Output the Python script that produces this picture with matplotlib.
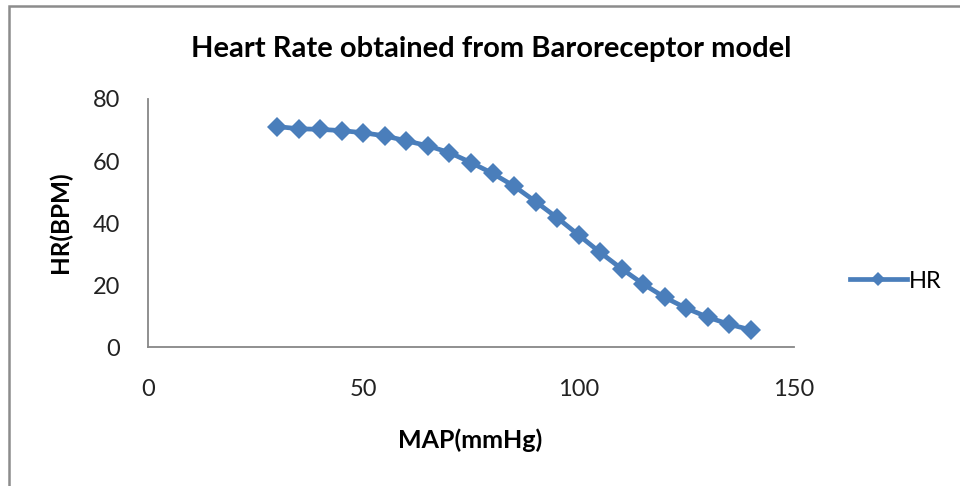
import matplotlib
matplotlib.use("Agg")
import matplotlib.pyplot as plt
from matplotlib.lines import Line2D
from matplotlib.patches import Rectangle

plt.rcParams['font.family'] = ['Lato', 'DejaVu Sans']

map_mmhg = [30, 35, 40, 45, 50, 55, 60, 65, 70, 75, 80, 85, 90, 95, 100,
            105, 110, 115, 120, 125, 130, 135, 140]
hr_bpm = [71.1, 70.4, 70.2, 69.8, 69.1, 68.1, 66.5, 64.9, 62.7, 59.5, 56.0,
          51.9, 46.9, 41.7, 36.1, 30.5, 25.2, 20.3, 16.0, 12.5, 9.6, 7.3, 5.5]
x_ticks = [0, 50, 100, 150]
y_ticks = [0, 20, 40, 60, 80]

blue = '#4A7EBB'
axis_gray = '#878787'

fig = plt.figure(figsize=(9.6, 4.86), dpi=100)
ax = fig.add_axes([148/960, 1-347/486, (794-148)/960, (347-99)/486])

ax.plot(map_mmhg, hr_bpm, color=blue, lw=3.4, marker='D', ms=10,
        markeredgewidth=0, clip_on=False)

ax.set_xlim(0, 150)
ax.set_ylim(0, 80)
ax.set_xticks(x_ticks)
ax.set_yticks(y_ticks)
ax.tick_params(axis='both', length=0, labelsize=17, colors='#222222')
ax.tick_params(axis='x', pad=23)
ax.tick_params(axis='y', pad=20)
for s in ['top', 'right']:
    ax.spines[s].set_visible(False)
for s in ['left', 'bottom']:
    ax.spines[s].set_color(axis_gray)
    ax.spines[s].set_linewidth(1.3)

xl = ax.set_xlabel('MAP(mmHg)', fontsize=18, fontweight='bold', va='center')
ax.xaxis.set_label_coords(470/960, 1-440/486, transform=fig.transFigure)
yl = ax.set_ylabel('HR(BPM)', fontsize=17.5, fontweight='bold', va='center')
ax.yaxis.set_label_coords(60/960, 1-222/486, transform=fig.transFigure)

fig.text(491/960, 1-49/486, 'Heart Rate obtained from Baroreceptor model',
         ha='center', va='center', fontsize=21, fontweight='bold')

handle = Line2D([], [], color=blue, lw=3.4, marker='D', ms=7.5, markeredgewidth=0)
fig.legend(handles=[handle], labels=['HR'], loc='center left',
           bbox_to_anchor=(850/960, 1-281/486), frameon=False, fontsize=17,
           handlelength=2.4, handletextpad=0.1, borderaxespad=0,
           borderpad=0)

fig.patches.append(Rectangle((9/960, -0.1), 1.2, 1.1 - 6/486, transform=fig.transFigure,
                             fill=False, edgecolor='#8c8c8c', lw=1.8))

fig.savefig('out.png', dpi=100)
